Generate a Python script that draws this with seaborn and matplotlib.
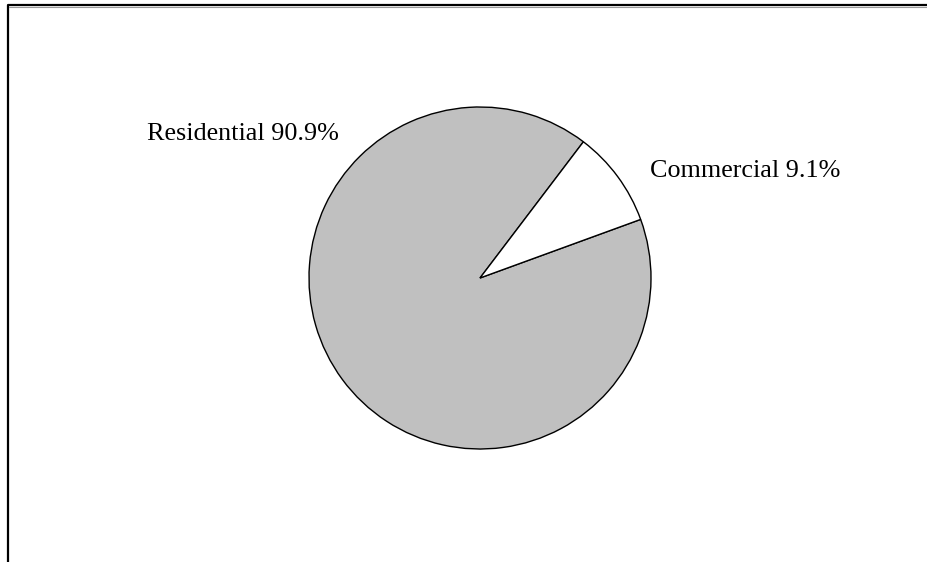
import matplotlib
matplotlib.use("Agg")
import matplotlib.pyplot as plt
import seaborn as sns

categories = ["Residential", "Commercial"]
shares = [90.9, 9.1]
slice_colors = ["#c0c0c0", "#ffffff"]

sns.set_theme(style="white")
plt.rcParams["font.family"] = ["Liberation Serif", "DejaVu Serif"]

W, H = 927, 562
fig = plt.figure(figsize=(W / 100, H / 100), dpi=100)
ax = fig.add_axes([0, 0, 1, 1])
ax.set_xlim(0, W)
ax.set_ylim(H, 0)
ax.set_aspect("equal")
ax.axis("off")

# outer chart frame (left and top edges visible)
ax.plot([8, 8, W + 5], [H + 5, 5, 5], color="black", lw=1.6, solid_capstyle="butt")
ax.plot([9.5, W + 5], [6.5, 6.5], color="#9a9a9a", lw=0.8)

# y axis is flipped, so counterclockwise on screen means clockwise in data
wedges, _ = ax.pie(
    shares,
    colors=slice_colors,
    center=(480, 278),
    radius=171,
    startangle=-52.8,
    counterclock=False,
    wedgeprops=dict(edgecolor="black", linewidth=1.0),
)
ax.set_xlim(0, W)
ax.set_ylim(H, 0)

ax.text(147, 140, f"{categories[0]} {shares[0]}%", fontsize=18.8,
        ha="left", va="baseline", color="black")
ax.text(650, 177, f"{categories[1]} {shares[1]}%", fontsize=18.8,
        ha="left", va="baseline", color="black")

fig.savefig("out.png", dpi=100)
